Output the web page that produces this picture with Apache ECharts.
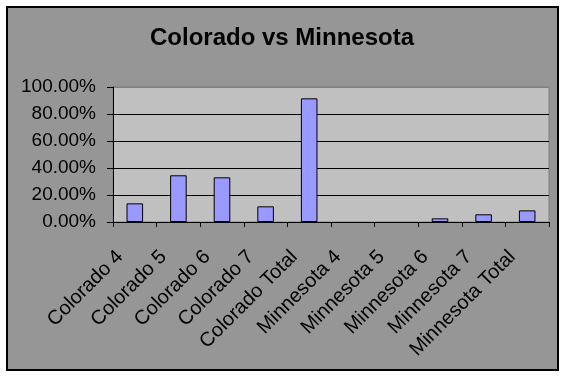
<!DOCTYPE html>
<html>
<head>
<meta charset="utf-8">
<script src="https://cdn.jsdelivr.net/npm/echarts@6/dist/echarts.min.js"></script>
<style>
    html, body { margin: 0; padding: 0; background: #ffffff; }
    #frame {
        position: absolute; left: 6px; top: 6px;
        width: 549px; height: 361px;
        border: 2px solid #000000; background: #969696;
    }
    #chart { position: absolute; left: 0; top: 0; width: 564px; height: 376px; }
</style>
</head>
<body>
<div id="frame"></div>
<div id="chart"></div>
<script>
//categories and values (percent)
var categories = ["Colorado 4", "Colorado 5", "Colorado 6", "Colorado 7", "Colorado Total",
    "Minnesota 4", "Minnesota 5", "Minnesota 6", "Minnesota 7", "Minnesota Total"];
var percentValues = [13.8, 34.6, 33.1, 11.6, 91.6, 0, 0, 2.7, 5.7, 8.6];
var yTicks = [0, 20, 40, 60, 80, 100];

var chart = echarts.init(document.getElementById("chart"));

//zero values have no bar at all (no outline either)
var barData = percentValues.map(function(v) {
    return v === 0 ? null : v;
});

var option = {
    backgroundColor: "transparent",
    animation: false,
    title: {
        text: "Colorado vs Minnesota",
        left: "center",
        top: 21,
        textStyle: {
            fontFamily: "Liberation Sans",
            fontSize: 24,
            fontWeight: "bold",
            color: "#000"
        }
    },
    grid: {
        left: 113,
        right: 15,
        top: 87,
        bottom: 154,
        show: true,
        backgroundColor: "#c0c0c0",
        borderColor: "#808080",
        borderWidth: 1
    },
    xAxis: {
        type: "category",
        data: categories,
        boundaryGap: true,
        axisLine: { lineStyle: { color: "#000", width: 1 } },
        axisTick: { show: true, length: 5, lineStyle: { color: "#000" } },
        axisLabel: {
            interval: 0,
            rotate: 45,
            margin: 17,
            padding: [0, 21, 0, 0],
            fontFamily: "Liberation Sans",
            fontSize: 20,
            color: "#000"
        }
    },
    yAxis: {
        type: "value",
        min: yTicks[0],
        max: yTicks[yTicks.length - 1],
        interval: 20,
        axisLine: { show: true, lineStyle: { color: "#000", width: 1 } },
        axisTick: { show: true, length: 6, lineStyle: { color: "#000" } },
        splitLine: {
            show: true,
            lineStyle: { color: ["#000", "#000", "#000", "#000", "#000", "#808080"], width: 1 }
        },
        axisLabel: {
            margin: 17,
            fontFamily: "Liberation Sans",
            fontSize: 19,
            color: "#000",
            formatter: function(v) {
                return v.toFixed(2) + "%";
            }
        }
    },
    series: [
        {
            type: "bar",
            data: barData,
            barWidth: "38%",
            itemStyle: {
                color: "#9999ff",
                borderColor: "#000",
                borderWidth: 1
            }
        }
    ]
};

chart.setOption(option);
</script>
</body>
</html>
